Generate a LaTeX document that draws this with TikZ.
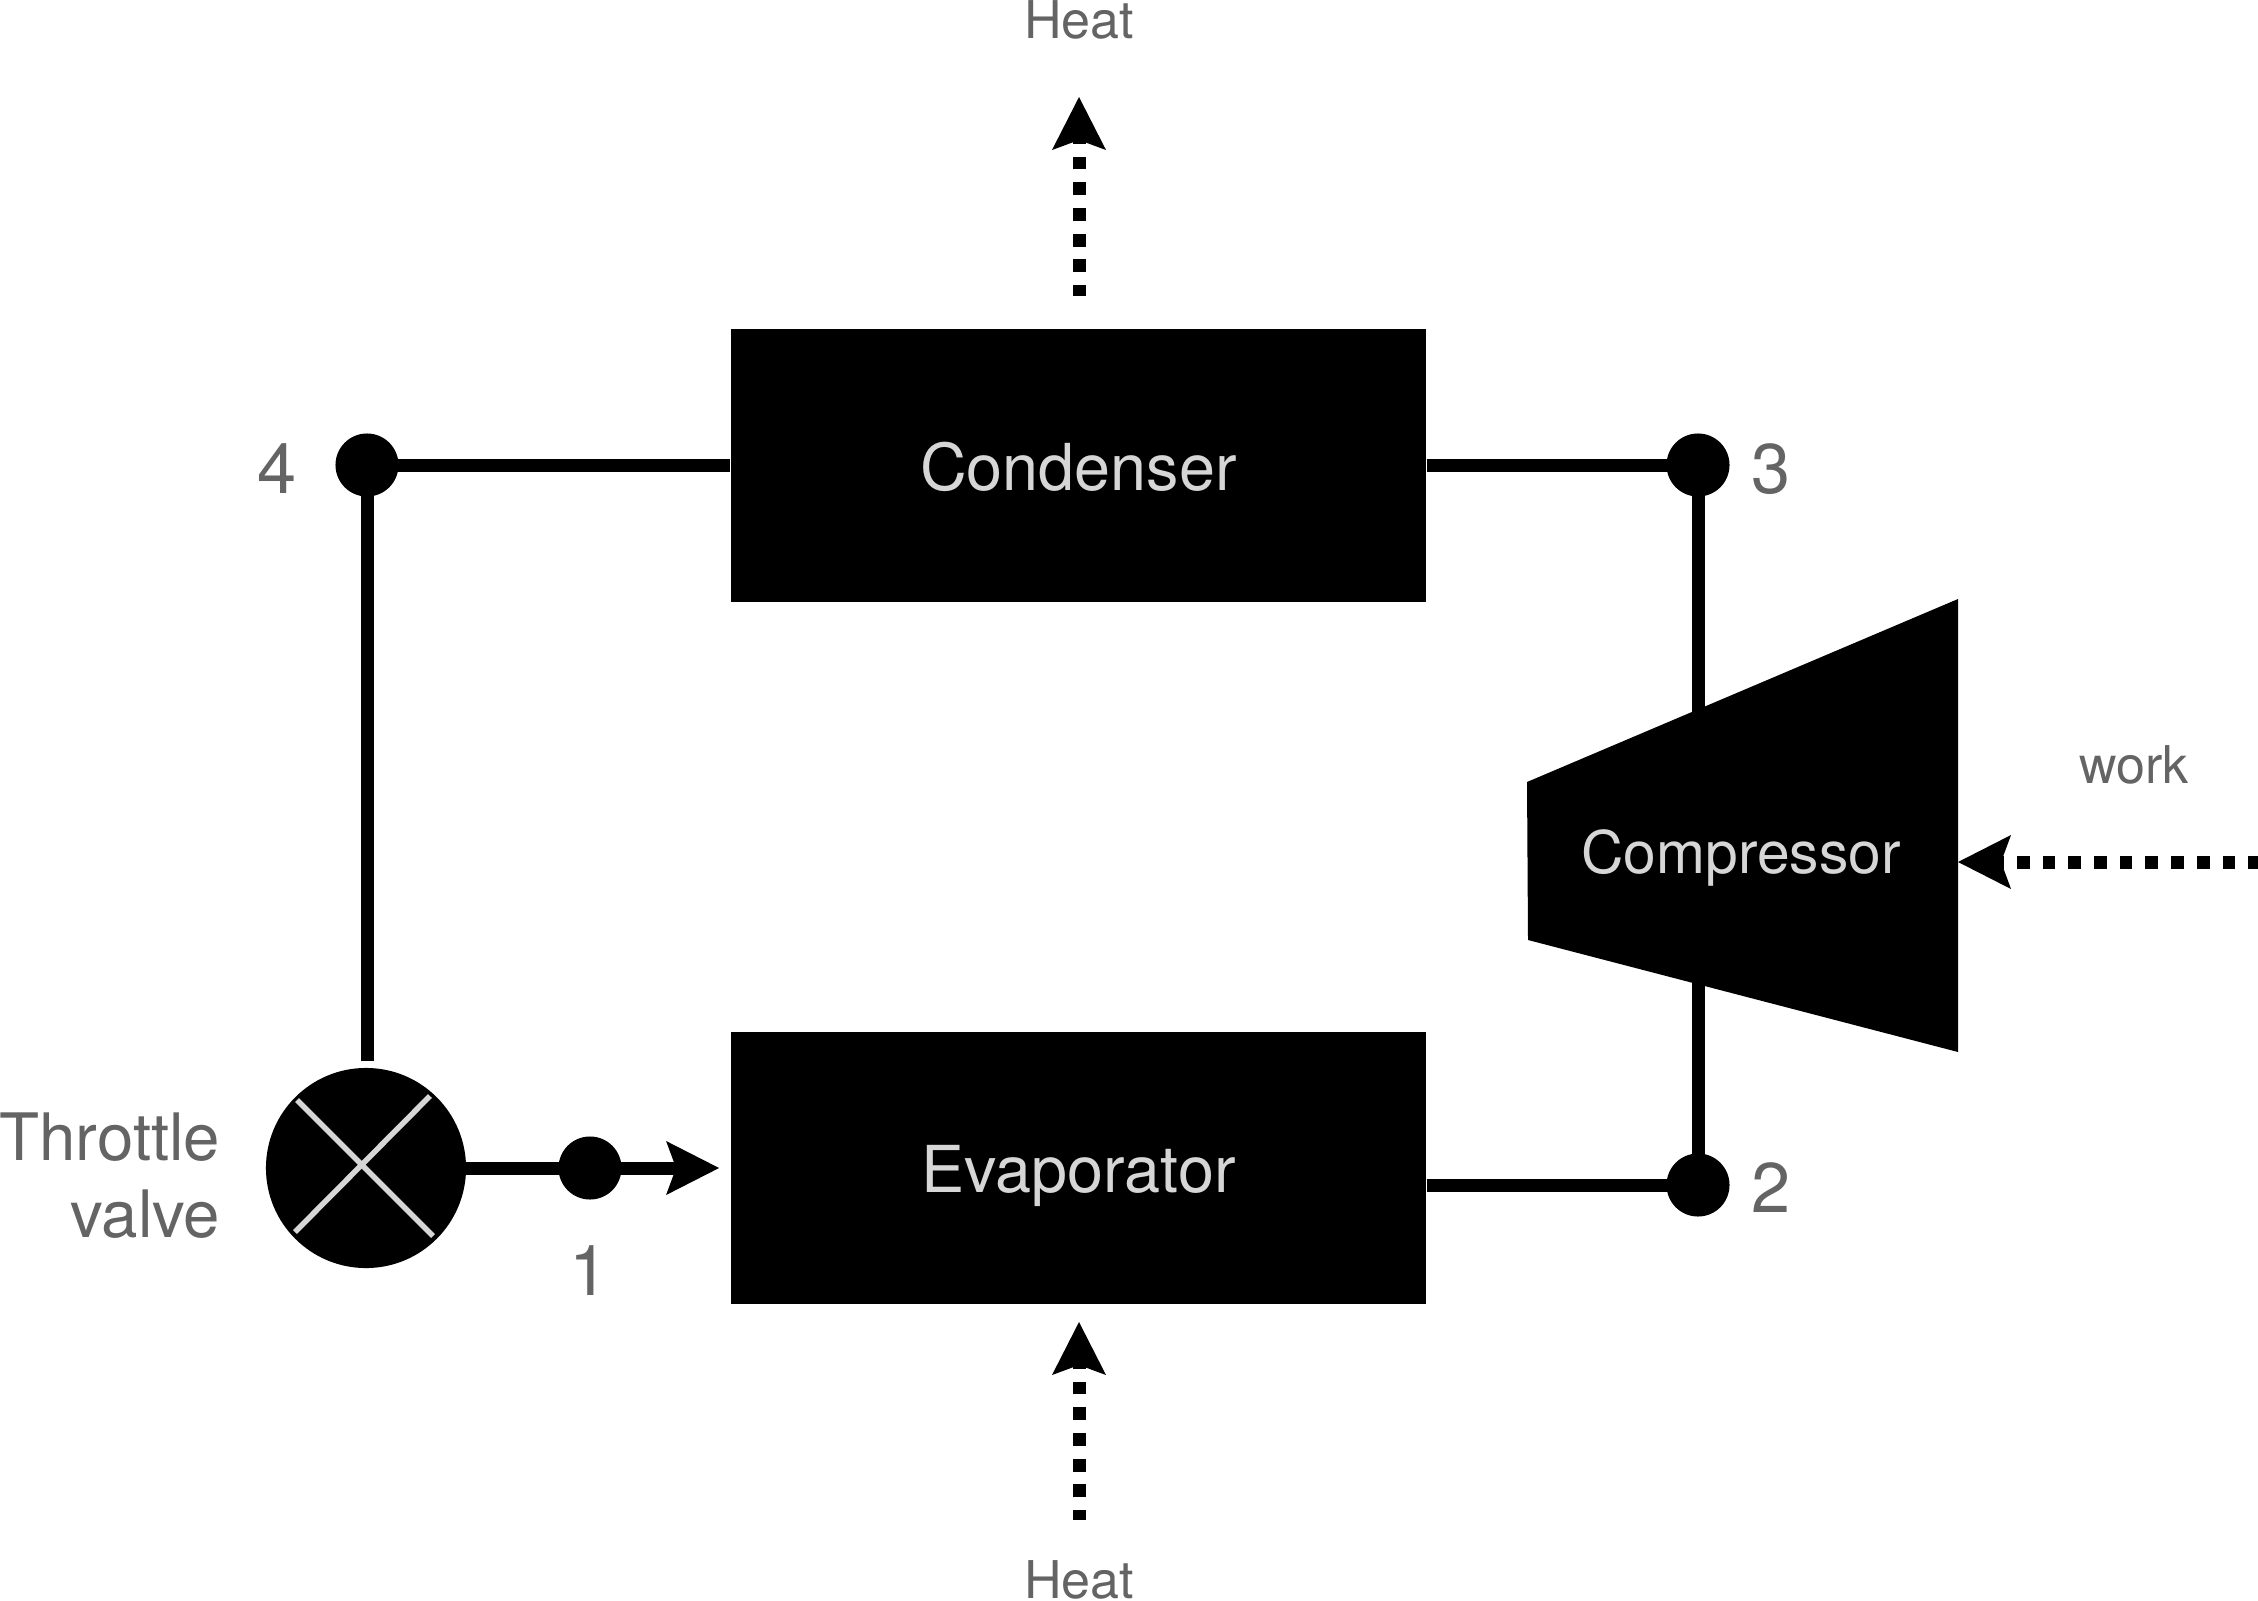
\documentclass[tikz,border=0pt]{standalone}
\usepackage{fontspec}
\setmainfont{TeX Gyre Heros}
\usetikzlibrary{arrows.meta}
\definecolor{labelgray}{HTML}{646464}
\definecolor{boxtext}{HTML}{D6D6D6}
\tikzset{
    unitbox/.style={fill=black, text=boxtext, minimum width=6.95cm, minimum height=2.72cm, inner sep=0pt, text height=0.49cm, text depth=0pt, font=\fontsize{18.4pt}{22pt}\selectfont},
    statedot/.style={circle, fill=black, minimum size=0.63cm, inner sep=0pt},
    pipe/.style={line width=0.13cm},
    flowtip/.style={-{Stealth[length=0.53cm, width=0.54cm, inset=0.1cm, line width=0pt]}},
    heatflow/.style={line width=0.13cm, dash pattern=on 0.128cm off 0.129cm, flowtip},
    biglabel/.style={text=labelgray, anchor=base, inner sep=0pt, font=\fontsize{18.6pt}{21.9pt}\selectfont},
    numlabel/.style={text=labelgray, anchor=base, inner sep=0pt, font=\fontsize{20pt}{24pt}\selectfont},
    smalllabel/.style={text=labelgray, anchor=base, inner sep=0pt, font=\fontsize{14.8pt}{17pt}\selectfont}
}
\begin{document}
\begin{tikzpicture}[x=0.01cm, y=-0.01cm]
    \useasboundingbox (0,0) rectangle (2258,1600);

    % Heat exchangers
    \node[unitbox] (condenser) at (1078.5,465.5) {Condenser};
    \node[unitbox] (evaporator) at (1078.5,1168) {Evaporator};

    % State points
    \node[statedot] (dot1) at (590,1168) {};
    \node[statedot] (dot2) at (1698,1185) {};
    \node[statedot] (dot3) at (1698,465) {};
    \node[statedot] (dot4) at (367,465) {};
    \node[numlabel] (num1) at (589,1295) {1};
    \node[numlabel] (num2) at (1771,1212) {2};
    \node[numlabel] (num3) at (1771,493) {3};
    \node[numlabel] (num4) at (277,493) {4};

    % Throttle valve
    \node[circle, fill=black, minimum size=2cm, inner sep=0pt] (valve) at (366,1168) {};
    \node[biglabel, anchor=east, align=right] (valvelabel) at (221,1176) {Throttle\\valve};

    % Pipes
    \draw[pipe] (condenser.west |- dot4) -- (dot4.center);
    \draw[pipe, shorten >=0.06cm] (dot4.center) -- (dot4 |- valve.north);
    \draw[pipe] (condenser.east |- dot3) -- (dot3.center);
    \draw[pipe] (dot3.center) -- (dot2.center);
    \draw[pipe] (evaporator.east |- dot2) -- (dot2.center);
    \draw[pipe, flowtip, shorten >=0.11cm] (valve.center) -- (evaporator.west);

    % Valve cross
    \draw[boxtext, line width=0.055cm] (297,1100) -- (433,1236);
    \draw[boxtext, line width=0.055cm] (430,1096) -- (295,1232);

    % Compressor
    \fill (1527,782) -- (1958,599) -- (1958,1052) -- (1528,940) -- cycle;
    \node[text=boxtext, anchor=base, inner sep=0pt, font=\fontsize{16.7pt}{20pt}\selectfont] (compressor) at (1741,873) {Compressor};

    % Heat and work flows
    \coordinate (heatoutstart) at (1079,296);
    \coordinate (heatouttip) at (1079,97);
    \coordinate (heatinstart) at (1079,1520);
    \coordinate (heatintip) at (1079,1322);
    \coordinate (workstart) at (2258,862);
    \coordinate (worktip) at (1958,862);
    \draw[heatflow, dash phase=0.02cm] (heatoutstart) -- (heatouttip);
    \draw[heatflow, dash phase=0.03cm] (heatinstart) -- (heatintip);
    \draw[heatflow, dash phase=0.03cm] (workstart) -- (worktip);
    \node[smalllabel] (heatout) at (1079,39) {Heat};
    \node[smalllabel] (heatin) at (1079,1598) {Heat};
    \node[smalllabel] (work) at (2134,783) {work};

\end{tikzpicture}
\end{document}
